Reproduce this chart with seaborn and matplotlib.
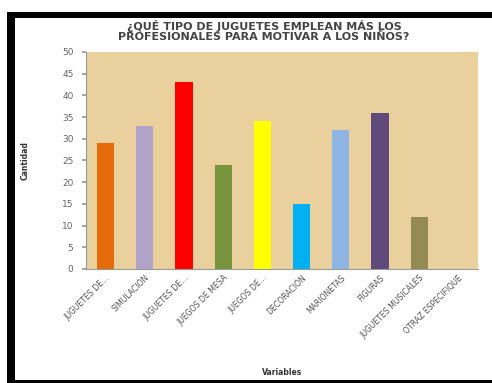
import matplotlib
matplotlib.use("Agg")
import matplotlib.pyplot as plt
import seaborn as sns
import pandas as pd
from matplotlib.patches import Rectangle

categories = ["JUGUETES DE...", "SIMULACIÓN", "JUGUETES DE...", "JUEGOS DE MESA",
              "JUEGOS DE...", "DECORACIÓN", "MARIONETAS", "FIGURAS",
              "JUGUETES MUSICALES", "OTRAZ ESPECIFIQUE"]
values = [29, 33, 43, 24, 34, 15, 32, 36, 12, 0]
colors = ["#E46C0A", "#B3A2C7", "#FF0000", "#77933C", "#FFFF00",
          "#00B0F0", "#8EB4E3", "#604A7B", "#948A54", "#C0C0C0"]
yticks = list(range(0, 51, 5))

sns.set_theme(style="white")
plt.rcParams['font.family'] = ['DejaVu Sans']

W, H = 492, 383
fig = plt.figure(figsize=(W / 100, H / 100), dpi=100)
fig.patch.set_facecolor("white")

# frame
fig.add_artist(Rectangle((7 / W, 1 - 383 / H), (W - 7) / W, (383 - 12) / H,
                         transform=fig.transFigure, facecolor="black", edgecolor="none", zorder=0))
fig.add_artist(Rectangle((15 / W, 1 - 380 / H), (W - 15) / W, (380 - 18) / H,
                         transform=fig.transFigure, facecolor="white", edgecolor="none", zorder=0))

ax = fig.add_axes([86 / W, 1 - 269 / H, (478 - 86) / W, (269 - 52) / H])
ax.set_facecolor("#E9D09C")

df = pd.DataFrame({"cat": range(len(categories)), "val": values})
sns.barplot(data=df, x="cat", y="val", hue="cat", palette=colors, legend=False,
            width=0.44, ax=ax, saturation=1, linewidth=0, edgecolor="none")

ax.set_ylim(0, 50)
ax.set_yticks(yticks)
ax.set_yticklabels([str(t) for t in yticks], fontsize=6.5, color="#666666")
ax.set_xticks(range(len(categories)))
ax.set_xticklabels(categories, rotation=45, ha="right", rotation_mode="anchor",
                   fontsize=5.6, color="#555555")
ax.set_xlim(-0.5, len(categories) - 0.5)
ax.tick_params(axis="y", length=3, color="#999999", pad=6, left=True)
ax.tick_params(axis="x", length=0, pad=3)
for s in ["top", "right"]:
    ax.spines[s].set_visible(False)
ax.spines["left"].set_color("#999999")
ax.spines["bottom"].set_color("#999999")
ax.spines["left"].set_linewidth(0.8)
ax.spines["bottom"].set_linewidth(0.8)

ax.set_xlabel("Variables", fontsize=5.5, fontweight="bold", color="#333333")
ax.xaxis.set_label_coords(0.5, -0.455)
ax.set_ylabel("Cantidad", fontsize=5.5, fontweight="bold", color="#333333")
ax.yaxis.set_label_coords(-0.145, 0.5)

fig.text(264 / W, 1 - 31 / H, "¿QUÉ TIPO DE JUGUETES EMPLEAN MÁS LOS\nPROFESIONALES PARA MOTIVAR A LOS NIÑOS?",
         ha="center", va="center", fontsize=8, fontweight="bold", color="#444444",
         linespacing=1.0)

fig.savefig("out.png", dpi=100)
